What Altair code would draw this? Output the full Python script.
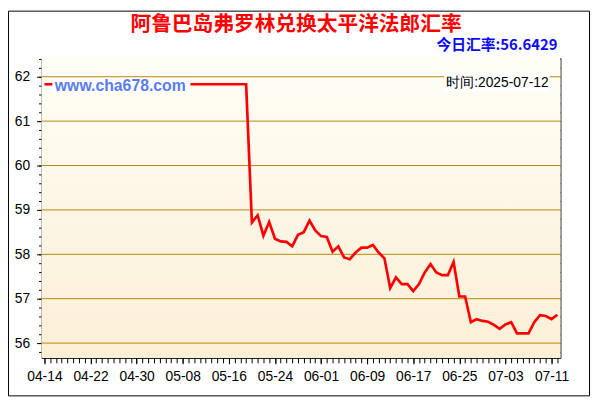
import altair as alt
import pandas as pd

# ---- data ----
start_date = "2025-04-14"
n_days = 90
rates = [
    61.83, 61.83, 61.83, 61.83, 61.83, 61.83, 61.83, 61.83, 61.83, 61.83,
    61.83, 61.83, 61.83, 61.83, 61.83, 61.83, 61.83, 61.83, 61.83, 61.83,
    61.83, 61.83, 61.83, 61.83, 61.83, 61.83, 61.83, 61.83, 61.83, 61.83,
    61.83, 61.83, 61.83, 61.83, 61.83, 61.83,
    58.72, 58.88, 58.42, 58.73, 58.35, 58.29, 58.28, 58.18, 58.44, 58.50,
    58.76, 58.54, 58.41, 58.39, 58.06, 58.18, 57.93, 57.89, 58.04, 58.15,
    58.15, 58.21, 58.04, 57.91, 57.24, 57.48, 57.33, 57.33, 57.17, 57.33,
    57.59, 57.78, 57.59, 57.53, 57.53, 57.83, 57.05, 57.05, 56.47, 56.54,
    56.50, 56.48, 56.41, 56.32, 56.42, 56.47, 56.22, 56.22, 56.22, 56.47,
    56.63, 56.61, 56.54, 56.64,
]
dates = [d.strftime("%Y-%m-%d") for d in pd.date_range(start_date, periods=n_days, freq="D")]
major_labels = ["04-14", "04-22", "04-30", "05-08", "05-16", "05-24",
                "06-01", "06-09", "06-17", "06-25", "07-03", "07-11"]
grid_values = [56, 57, 58, 59, 60, 61, 62]
title_text = "阿鲁巴岛弗罗林兑换太平洋法郎汇率"
today_text = "今日汇率:56.6429"
time_text = "时间:2025-07-12"
watermark = "www.cha678.com"

df = pd.DataFrame({"date": dates, "rate": rates})
grid_df = pd.DataFrame({"v": grid_values})
one = pd.DataFrame({"k": [0]})

W, H = 526, 304
FONT = "Liberation Sans"
CJK = "Noto Sans CJK SC"


def dt(s, h=0):
    y, m, d = [int(p) for p in s.split("-")]
    return alt.DateTime(year=y, month=m, date=d, hours=h, utc=True)


x_domain = [dt("2025-04-13", 12), dt("2025-07-12", 13)]
y_domain = [55.667, 62.422]
xs = alt.Scale(type="utc", domain=x_domain)
ys = alt.Scale(domain=y_domain, nice=False, zero=False)

major_vals = [dt("2025-" + lab) for lab in major_labels]
daily_vals = [dt(d) for d in dates]
minor_y = [round(55.8 + 0.2 * i, 1) for i in range(34)]

base = alt.Chart(df)

bg = alt.Chart(one).mark_rect(
    color=alt.LinearGradient(
        gradient="linear",
        stops=[alt.GradientStop(color="#FFFEF6", offset=0),
               alt.GradientStop(color="#FCEFD6", offset=1)],
        x1=0, x2=0, y1=0, y2=1,
    )
).encode(x=alt.value(0), x2=alt.value(W), y=alt.value(0), y2=alt.value(H))

grid = alt.Chart(grid_df).mark_rule(color="#B8860B", strokeWidth=1).encode(
    y=alt.Y("v:Q", scale=ys, axis=None)
)

line = base.mark_line(color="#FF0000", strokeWidth=2.7, interpolate="linear").encode(
    x=alt.X("date:T", scale=xs, title=None,
            axis=alt.Axis(orient="bottom", values=major_vals, format="%m-%d",
                          offset=-3, tickSize=9, domain=False, grid=False,
                          labelFont=FONT, labelFontSize=14, labelColor="#000000",
                          labelPadding=6, tickColor="#000000", labelFlush=False,
                          labelOverlap=False)),
    y=alt.Y("rate:Q", scale=ys, title=None,
            axis=alt.Axis(orient="left", values=grid_values, offset=-4, tickSize=9,
                          domain=False, grid=False, labelFont=FONT, labelFontSize=14,
                          labelColor="#000000", labelPadding=7, tickColor="#000000")),
)

ax_minor = base.mark_point(opacity=0).encode(
    x=alt.X("date:T", scale=xs, title=None,
            axis=alt.Axis(orient="bottom", values=daily_vals, labels=False,
                          tickSize=5, domain=False, grid=False, tickColor="#000000")),
    y=alt.Y("rate:Q", scale=ys, title=None,
            axis=alt.Axis(orient="left", values=minor_y, labels=False, offset=-3,
                          tickSize=6, domain=False, grid=False, tickColor="#000000")),
)

ax_far = base.mark_point(opacity=0).encode(
    x=alt.X("date:T", scale=xs, title=None,
            axis=alt.Axis(orient="top", values=daily_vals, labels=False, offset=-4,
                          tickSize=4, domain=False, grid=False, tickColor="#000000")),
    y=alt.Y("rate:Q", scale=ys, title=None,
            axis=alt.Axis(orient="right", values=minor_y, labels=False, offset=-4,
                          tickSize=4, domain=False, grid=False, tickColor="#000000")),
)

wm_box = alt.Chart(one).mark_rect(color="white").encode(
    x=alt.value(11), x2=alt.value(151), y=alt.value(22), y2=alt.value(35)
)
wm_text = alt.Chart(one).mark_text(
    text=watermark, font=FONT, fontSize=16, fontWeight="bold", color="#5B7CF0",
    align="left", baseline="middle"
).encode(x=alt.value(13.5), y=alt.value(28.5))

time_box = alt.Chart(one).mark_rect(color="white").encode(
    x=alt.value(408), x2=alt.value(515), y=alt.value(15), y2=alt.value(34)
)
time_t = alt.Chart(one).mark_text(
    text=time_text, font=FONT, fontSize=14, color="#000000",
    align="right", baseline="middle"
).encode(x=alt.value(514), y=alt.value(25))

title_t = alt.Chart(one).mark_text(
    text=title_text, font=CJK, fontSize=21, fontWeight="bold", color="#FF0000",
    align="center", baseline="middle"
).encode(x=alt.value(258), y=alt.value(-33))

today_t = alt.Chart(one).mark_text(
    text=today_text, font=CJK, fontSize=15, fontWeight="bold", color="#0A0AF5",
    align="right", baseline="middle"
).encode(x=alt.value(523), y=alt.value(-13))

frame = alt.Chart(one).mark_rect(fill=None, stroke="black", strokeWidth=1).encode(
    x=alt.value(-33.5), x2=alt.value(555.5), y=alt.value(-47.5), y2=alt.value(342.5)
)

chart = alt.layer(
    bg, grid, line, ax_minor, ax_far, wm_box, wm_text, time_box, time_t,
    title_t, today_t, frame
).resolve_axis(x="independent", y="independent").properties(
    width=W, height=H,
    padding={"left": 34, "top": 48, "right": 32, "bottom": 40},
    autosize=alt.AutoSizeParams(type="none"),
    background="white",
).configure_view(stroke="black", strokeWidth=1)

chart.save("out.html", embed_options={"renderer": "svg", "actions": False})
